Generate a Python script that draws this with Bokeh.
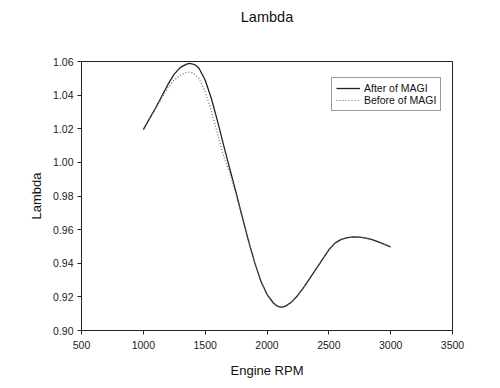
from bokeh.plotting import figure
from bokeh.models import Legend, LegendItem, NumeralTickFormatter, FixedTicker, Range1d, Title
from bokeh.embed import file_html
from bokeh.resources import INLINE

# Data
rpm_after = [1000, 1050, 1100, 1150, 1200, 1250, 1300, 1350, 1375, 1400, 1425, 1450, 1500,
             1550, 1600, 1650, 1700, 1750, 1800, 1850, 1900, 1950, 2000, 2050, 2075, 2100,
             2125, 2150, 2200, 2250, 2300, 2350, 2400, 2450, 2500, 2550, 2600, 2650, 2700,
             2750, 2800, 2850, 2900, 2950, 3000]
lambda_after = [1.0195, 1.026, 1.0325, 1.0395, 1.0465, 1.0525, 1.0565, 1.0584, 1.0589,
                1.0585, 1.0577, 1.0560, 1.049, 1.038, 1.0245, 1.010, 0.996, 0.982, 0.9675,
                0.9535, 0.9405, 0.9295, 0.9215, 0.9165, 0.9149, 0.914, 0.9139, 0.9145,
                0.917, 0.921, 0.926, 0.9315, 0.937, 0.9425, 0.948, 0.952, 0.9542, 0.9553,
                0.9557, 0.9555, 0.955, 0.954, 0.9527, 0.9512, 0.9497]

rpm_before = [1000, 1050, 1100, 1150, 1200, 1250, 1300, 1350, 1375, 1400, 1450, 1500,
              1550, 1600, 1650, 1700, 1750, 1800, 1850, 1900, 1950, 2000, 2050, 2075, 2100,
              2125, 2150, 2200, 2250, 2300, 2350, 2400, 2450, 2500, 2550, 2600, 2650, 2700,
              2750, 2800, 2850, 2900, 2950, 3000]
lambda_before = [1.0195, 1.026, 1.032, 1.0385, 1.0445, 1.049, 1.052, 1.0535, 1.0537,
                 1.0532, 1.050, 1.042, 1.0305, 1.017, 1.0035, 0.9935, 0.981, 0.9675,
                 0.9535, 0.9405, 0.9295, 0.9215, 0.9165, 0.9149, 0.914, 0.9139, 0.9145,
                 0.917, 0.921, 0.926, 0.9315, 0.937, 0.9425, 0.948, 0.952, 0.9542, 0.9553,
                 0.9557, 0.9555, 0.955, 0.954, 0.9527, 0.9512, 0.9497]

x_ticks = [500, 1000, 1500, 2000, 2500, 3000, 3500]
y_ticks = [0.90, 0.92, 0.94, 0.96, 0.98, 1.00, 1.02, 1.04, 1.06]

FONT = "Liberation Sans"

p = figure(width=492, height=380, output_backend="svg", toolbar_location=None,
           x_range=Range1d(500, 3500), y_range=Range1d(0.90, 1.06),
           title="Lambda", min_border_left=81, min_border_right=40,
           min_border_top=61, min_border_bottom=50)
p.frame_width = 371
p.frame_height = 269

# spacer between the title and the plot frame
spacer = Title(text=" ", text_font=FONT, text_font_size="14.5px", standoff=14)
p.add_layout(spacer, "above")

p.title.align = "center"
p.title.text_font = FONT
p.title.text_font_size = "14.5px"
p.title.text_font_style = "normal"
p.title.text_color = "#111111"
p.title.standoff = 10

p.grid.visible = False
p.outline_line_color = "#222222"
p.outline_line_width = 1
p.background_fill_color = "white"
p.border_fill_color = "white"

for ax in (p.xaxis[0], p.yaxis[0]):
    ax.axis_line_color = "#222222"
    ax.major_tick_line_color = "#222222"
    ax.major_tick_in = 0
    ax.major_tick_out = 4
    ax.minor_tick_line_color = None
    ax.major_label_text_font = FONT
    ax.major_label_text_font_size = "10.5px"
    ax.major_label_text_color = "#222222"
    ax.axis_label_text_font = FONT
    ax.axis_label_text_font_size = "13px"
    ax.axis_label_text_font_style = "normal"
    ax.axis_label_text_color = "#111111"

p.xaxis.ticker = FixedTicker(ticks=x_ticks)
p.yaxis.ticker = FixedTicker(ticks=y_ticks)
p.yaxis.formatter = NumeralTickFormatter(format="0.00")
p.xaxis.axis_label = "Engine RPM"
p.yaxis.axis_label = "Lambda"
p.xaxis.major_label_standoff = 6
p.yaxis.major_label_standoff = 4
p.xaxis.axis_label_standoff = 11
p.yaxis.axis_label_standoff = 6

r_after = p.line(rpm_after, lambda_after, line_color="#222222", line_width=1.3)
r_before = p.line(rpm_before, lambda_before, line_color="#666666", line_width=1.2,
                  line_dash="1 2")

legend = Legend(items=[LegendItem(label="After of MAGI", renderers=[r_after]),
                       LegendItem(label="Before of MAGI", renderers=[r_before])],
                location=(250, 219))
legend.label_text_font = FONT
legend.label_text_font_size = "10.5px"
legend.label_text_color = "#111111"
legend.border_line_color = "#333333"
legend.border_line_width = 1
legend.background_fill_alpha = 1
legend.padding = 4
legend.spacing = 0
legend.margin = 0
legend.glyph_width = 24
legend.glyph_height = 10
legend.label_height = 10
legend.label_standoff = 4
p.add_layout(legend, "center")

open("out.html", "w").write(file_html(p, INLINE))
